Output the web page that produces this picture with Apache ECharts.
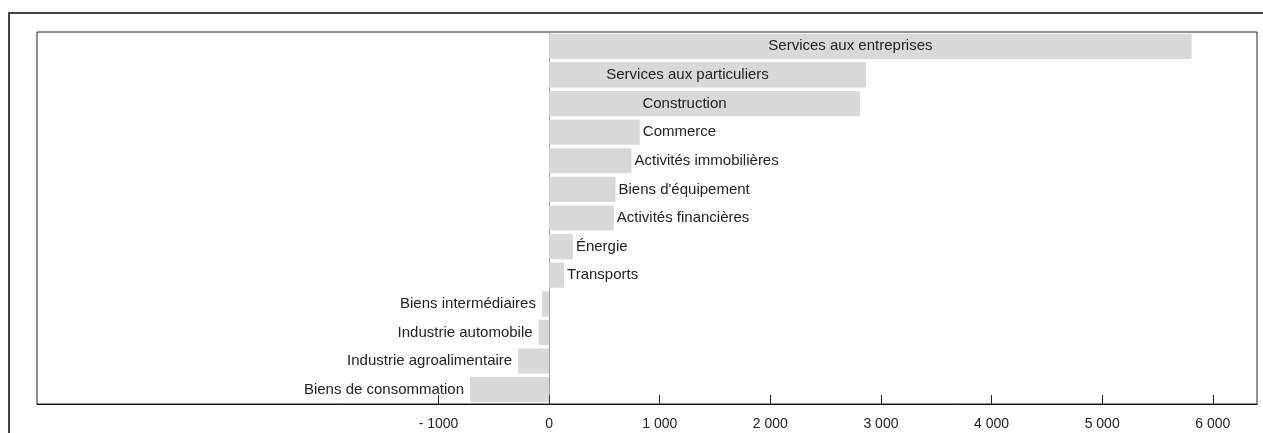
<!DOCTYPE html>
<html>
<head>
<meta charset="utf-8">
<script src="https://cdn.jsdelivr.net/npm/echarts@6/dist/echarts.min.js"></script>
<style>
html,body{margin:0;padding:0;background:#fff;}
#chart{width:1263px;height:433px;}
</style>
</head>
<body>
<div id="chart"></div>
<script>
const categories = ["Services aux entreprises","Services aux particuliers","Construction","Commerce","Activités immobilières","Biens d'équipement","Activités financières","Énergie","Transports","Biens intermédiaires","Industrie automobile","Industrie agroalimentaire","Biens de consommation"];
const values = [5810, 2865, 2810, 820, 745, 600, 585, 215, 135, -65, -95, -280, -715];
const tickValues = [-1000, 0, 1000, 2000, 3000, 4000, 5000, 6000];
const tickLabels = ["- 1000", "0", "1 000", "2 000", "3 000", "4 000", "5 000", "6 000"];

// Detect whether a narrow sans is installed; fall back to regular width with smaller size.
function hasFont(name) {
  const c = document.createElement('canvas').getContext('2d');
  const s = 'abcdefghijklmnopqrstuvwxyz0123456789';
  c.font = "30px monospace";
  const w1 = c.measureText(s).width;
  c.font = "30px '" + name + "', monospace";
  const w2 = c.measureText(s).width;
  return Math.abs(w1 - w2) > 1;
}
const narrow = hasFont('Liberation Sans Narrow');
const FONT = narrow ? "'Liberation Sans Narrow', 'Liberation Sans', Arial, sans-serif"
                    : "'Liberation Sans', Arial, Helvetica, sans-serif";
const catSize = narrow ? 18 : 15;
const tickSize = narrow ? 17 : 14;

const chart = echarts.init(document.getElementById('chart'), null, {renderer: 'canvas'});

const data = values.map(function (v, i) {
  let label;
  if (v < 0) label = {position: 'left', distance: 6};
  else if (v > 2000) label = {position: 'inside', offset: [-20, 0]};
  else label = {position: 'right', distance: 3};
  return {value: v, name: categories[i], label: label};
});

chart.setOption({
  animation: false,
  backgroundColor: '#ffffff',
  graphic: [{
    type: 'rect', silent: true, z: 100,
    shape: {x: 9, y: 13, width: 1400, height: 600},
    style: {fill: 'none', stroke: '#444', lineWidth: 2}
  }],
  grid: {
    left: 37, top: 32, right: 6, bottom: 29,
    show: true, borderColor: '#222', borderWidth: 1, backgroundColor: 'transparent'
  },
  xAxis: {
    type: 'value',
    min: -4630, max: 6400,
    splitLine: {show: false},
    axisLine: {show: true, lineStyle: {color: '#111', width: 1}},
    axisTick: {show: true, inside: true, length: 9, customValues: tickValues, lineStyle: {color: '#222'}},
    axisLabel: {
      customValues: tickValues,
      fontFamily: FONT, fontSize: tickSize, color: '#222', margin: 13,
      formatter: function (v) {
        const idx = tickValues.indexOf(v);
        return idx >= 0 ? tickLabels[idx] : '';
      }
    }
  },
  yAxis: {
    type: 'category',
    data: categories,
    inverse: true,
    axisLine: {show: true, onZero: true, lineStyle: {color: '#999', width: 1}},
    axisTick: {show: false},
    axisLabel: {show: false},
    splitLine: {show: false}
  },
  series: [{
    type: 'bar',
    data: data,
    barCategoryGap: '12%',
    itemStyle: {color: '#d9d9d9'},
    label: {
      show: true,
      formatter: '{b}',
      fontFamily: FONT, fontSize: catSize, color: '#222'
    }
  }]
});
</script>
</body>
</html>
